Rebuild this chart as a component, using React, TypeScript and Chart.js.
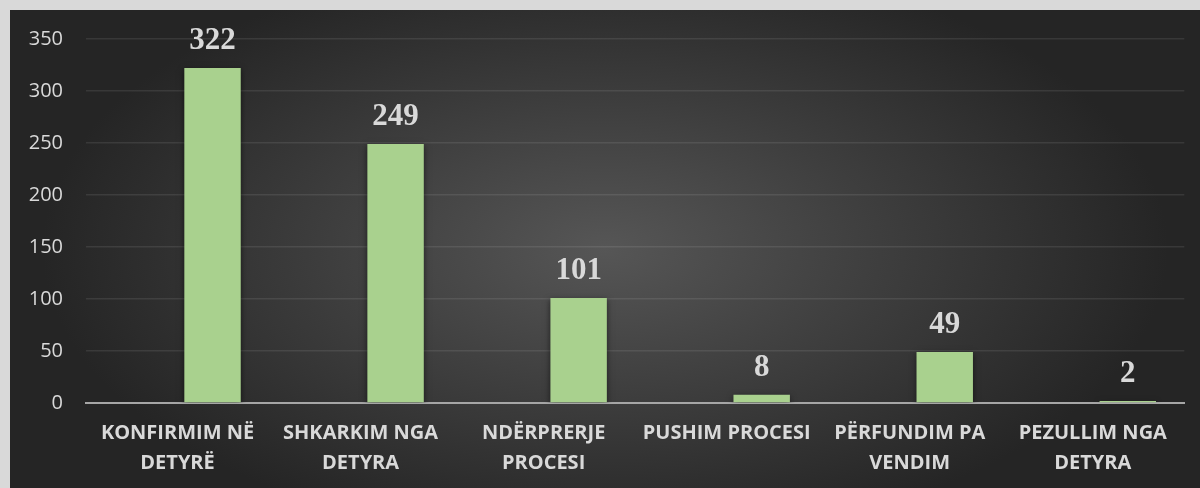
import React, { useEffect, useRef } from "react";
import { Chart, registerables } from "chart.js";

Chart.register(...registerables);

const categories: (string | string[])[] = [
  ["KONFIRMIM NË", "DETYRË"],
  ["SHKARKIM NGA", "DETYRA"],
  ["NDËRPRERJE", "PROCESI"],
  "PUSHIM PROCESI",
  ["PËRFUNDIM PA", "VENDIM"],
  ["PEZULLIM NGA", "DETYRA"],
];
const emptySeries: (number | null)[] = [null, null, null, null, null, null];
const values: number[] = [322, 249, 101, 8, 49, 2];
const yTicks: number[] = [0, 50, 100, 150, 200, 250, 300, 350];

const bgPlugin = {
  id: "bgGradient",
  beforeDraw(chart: any) {
    const { ctx, width, height } = chart;
    ctx.save();
    const cx = width * 0.5;
    const cy = height * 0.5;
    const sx = 1.9;
    ctx.translate(cx, cy);
    ctx.scale(sx, 1);
    const r = height * 0.62;
    const g = ctx.createRadialGradient(0, 0, 0, 0, 0, r);
    g.addColorStop(0, "#565656");
    g.addColorStop(1, "#252525");
    ctx.fillStyle = g;
    ctx.fillRect(-cx / sx, -cy, width / sx, height);
    ctx.restore();
  },
};

const shadowPlugin = {
  id: "barShadow",
  beforeDatasetsDraw(chart: any) {
    const ctx = chart.ctx;
    ctx.save();
    ctx.shadowColor = "rgba(0,0,0,0.55)";
    ctx.shadowBlur = 6;
    ctx.shadowOffsetX = 0;
    ctx.shadowOffsetY = 2;
  },
  afterDatasetsDraw(chart: any) {
    chart.ctx.restore();
  },
};

const labelPlugin = {
  id: "valueLabels",
  afterDatasetsDraw(chart: any) {
    const ctx = chart.ctx;
    const meta = chart.getDatasetMeta(1);
    ctx.save();
    ctx.font = "bold 31px 'Liberation Serif'";
    ctx.fillStyle = "#d9d9d9";
    ctx.textAlign = "center";
    ctx.textBaseline = "alphabetic";
    meta.data.forEach((bar: any, i: number) => {
      ctx.fillText(String(values[i]), bar.x, bar.y - 19);
    });
    ctx.restore();
  },
};

export default function App() {
  const ref = useRef<HTMLCanvasElement>(null);
  useEffect(() => {
    document.body.style.margin = "0";
    const chart = new Chart(ref.current!, {
      type: "bar",
      data: {
        labels: categories,
        datasets: [
          {
            data: emptySeries,
            backgroundColor: "#7f7f7f",
            categoryPercentage: 0.765,
            barPercentage: 0.806,
          },
          {
            data: values,
            backgroundColor: "#a9d18e",
            categoryPercentage: 0.765,
            barPercentage: 0.806,
          },
        ],
      },
      options: {
        animation: false,
        responsive: false,
        maintainAspectRatio: false,
        layout: { padding: { left: 0, right: 15.7, top: 29, bottom: 0 } },
        plugins: { legend: { display: false }, tooltip: { enabled: false } },
        scales: {
          y: {
            min: 0,
            max: 350,
            afterBuildTicks: (s: any) => {
              s.ticks = yTicks.map((v) => ({ value: v }));
            },
            afterFit: (s: any) => {
              s.width = 76;
              s.paddingTop = 0;
              s.paddingBottom = 0;
            },
            grid: {
              color: "rgba(255,255,255,0.09)",
              lineWidth: 1.5,
              drawTicks: false,
            },
            border: { display: false },
            ticks: {
              padding: 23,
              color: "#d9d9d9",
              font: { family: "'Open Sans'", size: 20 },
            },
          },
          x: {
            afterFit: (s: any) => {
              s.height = 85;
            },
            grid: { display: false, drawTicks: false },
            border: { display: true, color: "#a6a6a6", width: 2 },
            ticks: {
              padding: 15,
              color: "#d9d9d9",
              maxRotation: 0,
              autoSkip: false,
              font: { family: "'Open Sans'", size: 20, weight: "bold", lineHeight: 30 / 20 },
            },
          },
        },
      },
      plugins: [bgPlugin, shadowPlugin, labelPlugin],
    });
    return () => chart.destroy();
  }, []);
  return (
    <div style={{ position: "absolute", left: 0, top: 0, width: 1200, height: 488, background: "#d9d9d9" }}>
      <div style={{ position: "absolute", left: 10, top: 10, width: 1190, height: 478 }}>
        <canvas ref={ref} width={1190} height={478} style={{ width: 1190, height: 478, display: "block" }} />
      </div>
    </div>
  );
}
